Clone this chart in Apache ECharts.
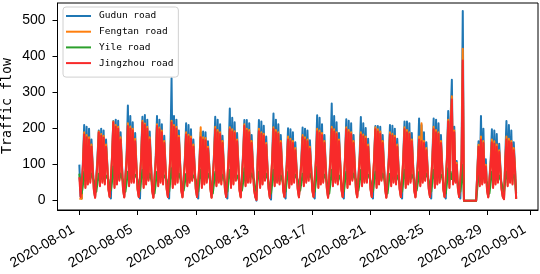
<!DOCTYPE html>
<html>
<head>
<meta charset="utf-8">
<script src="https://cdn.jsdelivr.net/npm/echarts@6/dist/echarts.min.js"></script>
<style>
  html, body { margin: 0; padding: 0; background: #fff; }
  #chart { width: 540px; height: 274px; }
</style>
</head>
<body>
<div id="chart"></div>
<script>
// one sample every 2 hours from 2020-08-01 00:00, one row per day (0,2,4,...,22h)
const stepHours = 2

const gudun = [
  100, 12, 6, 115, 210, 45, 205, 55, 200, 60, 170, 100,
  33, 10, 5, 125, 195, 50, 200, 60, 195, 55, 170, 105,
  35, 12, 6, 135, 221, 45, 225, 55, 222, 65, 190, 110,
  37, 11, 7, 130, 264, 50, 235, 60, 218, 60, 188, 105,
  35, 12, 6, 135, 233, 45, 238, 55, 225, 65, 192, 110,
  33, 10, 5, 125, 235, 50, 225, 60, 212, 55, 180, 100,
  35, 12, 6, 135, 340, 45, 235, 55, 225, 60, 195, 110,
  33, 11, 7, 120, 215, 50, 210, 60, 198, 65, 170, 100,
  35, 12, 6, 115, 190, 45, 192, 55, 190, 60, 165, 105,
  37, 10, 5, 130, 233, 50, 225, 60, 212, 55, 180, 105,
  35, 12, 6, 130, 256, 45, 230, 55, 218, 65, 188, 110,
  33, 11, 7, 135, 224, 50, 224, 60, 215, 60, 182, 105,
  35, 12, 0, 125, 224, 45, 220, 55, 208, 65, 178, 100,
  37, 10, 3, 130, 242, 50, 225, 60, 212, 55, 182, 105,
  33, 12, 6, 115, 201, 45, 198, 55, 190, 60, 162, 95,
  35, 11, 7, 120, 203, 50, 200, 60, 195, 65, 168, 100,
  33, 12, 6, 125, 237, 45, 230, 55, 212, 60, 182, 105,
  37, 10, 5, 130, 270, 50, 235, 60, 218, 55, 188, 110,
  35, 12, 6, 130, 226, 45, 222, 55, 215, 65, 182, 105,
  33, 11, 7, 125, 232, 50, 215, 60, 202, 60, 172, 100,
  35, 12, 6, 130, 207, 45, 207, 55, 205, 65, 182, 105,
  37, 10, 5, 120, 210, 50, 208, 60, 200, 55, 172, 100,
  35, 12, 6, 130, 220, 45, 220, 55, 215, 60, 188, 105,
  33, 11, 7, 115, 228, 50, 210, 60, 190, 65, 162, 95,
  35, 12, 6, 130, 228, 45, 225, 55, 215, 60, 182, 105,
  35, 12, 6, 130, 249, 45, 230, 336, 55, 205, 60, 110,
  37, 12, 6, 125, 527, 0, 0, 0, 0, 0, 0, 0,
  0, 0, 0, 0, 0, 165, 50, 235, 55, 200, 60, 115,
  33, 11, 6, 115, 198, 45, 195, 55, 185, 60, 158, 95,
  35, 12, 5, 120, 221, 50, 210, 60, 195, 55, 162, 100,
  5
]

const fengtan = [
  5, 8, 5, 105, 190, 38, 182, 48, 176, 53, 156, 95,
  30, 9, 5, 115, 192, 43, 185, 53, 180, 48, 156, 100,
  33, 11, 6, 125, 220, 38, 210, 48, 205, 58, 176, 105,
  34, 10, 7, 120, 215, 43, 206, 53, 200, 53, 172, 100,
  33, 11, 6, 125, 222, 38, 214, 48, 205, 58, 176, 105,
  30, 9, 5, 115, 212, 43, 203, 53, 195, 48, 166, 95,
  33, 11, 6, 125, 222, 38, 210, 48, 205, 53, 180, 105,
  30, 10, 7, 110, 190, 43, 183, 53, 178, 58, 156, 95,
  33, 11, 6, 105, 204, 38, 176, 48, 174, 53, 150, 100,
  34, 9, 5, 120, 205, 43, 196, 53, 190, 48, 166, 100,
  33, 11, 6, 120, 204, 38, 198, 48, 193, 58, 170, 105,
  30, 10, 7, 125, 212, 43, 200, 53, 196, 53, 166, 100,
  33, 11, 3, 115, 200, 38, 190, 48, 186, 58, 160, 95,
  34, 9, 5, 120, 204, 43, 196, 53, 190, 48, 166, 100,
  30, 11, 6, 105, 178, 38, 172, 48, 166, 53, 146, 90,
  33, 10, 7, 110, 182, 43, 176, 53, 170, 58, 150, 95,
  30, 11, 6, 115, 200, 38, 195, 48, 188, 53, 166, 100,
  34, 9, 5, 120, 205, 43, 198, 53, 190, 48, 170, 105,
  33, 11, 6, 120, 204, 38, 196, 48, 190, 58, 166, 100,
  30, 10, 7, 115, 190, 43, 184, 53, 178, 53, 156, 95,
  33, 11, 6, 120, 204, 38, 198, 48, 192, 58, 166, 100,
  34, 9, 5, 110, 190, 43, 186, 53, 180, 48, 156, 95,
  33, 11, 6, 120, 204, 38, 196, 48, 190, 53, 170, 100,
  30, 10, 7, 105, 178, 43, 215, 53, 166, 58, 146, 90,
  33, 11, 6, 120, 205, 38, 196, 48, 190, 53, 166, 100,
  33, 11, 6, 120, 225, 38, 215, 290, 48, 195, 53, 105,
  34, 11, 6, 115, 422, 0, 0, 0, 0, 0, 0, 0,
  0, 0, 0, 0, 0, 155, 43, 178, 48, 166, 53, 100,
  30, 10, 6, 105, 170, 38, 165, 48, 156, 53, 140, 90,
  33, 11, 5, 110, 178, 43, 172, 53, 166, 48, 146, 95,
  5
]

const yile = [
  75, 30, 20, 45, 80, 55, 85, 60, 80, 60, 75, 65,
  55, 35, 25, 50, 75, 55, 80, 60, 78, 55, 70, 65,
  58, 38, 28, 55, 95, 60, 85, 65, 82, 60, 75, 70,
  55, 33, 25, 50, 80, 55, 90, 60, 80, 65, 72, 65,
  58, 38, 28, 60, 85, 60, 80, 60, 85, 60, 75, 70,
  50, 30, 20, 50, 80, 55, 85, 65, 78, 60, 70, 65,
  58, 35, 25, 55, 90, 60, 85, 70, 82, 65, 75, 70,
  55, 38, 28, 50, 75, 55, 80, 60, 78, 60, 70, 65,
  58, 35, 25, 55, 85, 60, 85, 65, 80, 60, 75, 70,
  55, 30, 20, 50, 80, 55, 90, 60, 82, 55, 72, 65,
  50, 35, 25, 55, 85, 60, 80, 65, 78, 60, 70, 60,
  55, 38, 28, 50, 90, 55, 85, 60, 82, 65, 75, 65,
  58, 35, 25, 55, 80, 60, 85, 65, 80, 60, 75, 70,
  50, 30, 20, 50, 85, 55, 80, 60, 78, 55, 70, 60,
  55, 35, 25, 55, 80, 60, 90, 65, 82, 60, 72, 65,
  58, 38, 28, 50, 75, 55, 85, 60, 80, 65, 75, 70,
  55, 35, 25, 55, 95, 60, 80, 65, 85, 60, 72, 65,
  50, 30, 20, 50, 85, 55, 90, 60, 80, 55, 70, 60,
  55, 35, 25, 55, 80, 60, 85, 65, 78, 60, 75, 65,
  58, 38, 28, 50, 85, 55, 80, 60, 82, 65, 72, 70,
  55, 35, 25, 55, 80, 60, 85, 65, 80, 60, 75, 65,
  50, 30, 20, 50, 75, 55, 80, 60, 78, 55, 70, 60,
  55, 35, 25, 55, 85, 60, 85, 65, 80, 60, 72, 65,
  58, 38, 28, 50, 80, 55, 80, 60, 78, 65, 75, 70,
  55, 35, 25, 55, 85, 60, 85, 65, 82, 60, 72, 65,
  50, 30, 20, 50, 90, 55, 80, 60, 78, 55, 70, 60,
  55, 35, 25, 55, 100, 0, 0, 0, 0, 0, 0, 0,
  0, 0, 0, 0, 0, 70, 55, 80, 60, 78, 60, 65,
  50, 30, 20, 50, 80, 55, 85, 60, 78, 55, 70, 60,
  55, 35, 25, 55, 80, 60, 80, 65, 78, 60, 72, 65,
  20
]

const jingzhou = [
  65, 10, 5, 100, 184, 35, 176, 45, 170, 50, 150, 90,
  28, 8, 4, 110, 189, 40, 180, 50, 175, 45, 150, 95,
  30, 10, 5, 120, 218, 35, 205, 45, 200, 55, 170, 100,
  32, 9, 6, 115, 207, 40, 200, 50, 195, 50, 165, 95,
  30, 10, 5, 120, 217, 35, 210, 45, 200, 55, 170, 100,
  28, 8, 4, 110, 207, 40, 198, 50, 190, 45, 160, 90,
  30, 10, 5, 120, 217, 35, 205, 45, 200, 50, 175, 100,
  28, 9, 6, 105, 184, 40, 178, 50, 172, 55, 150, 90,
  30, 10, 5, 100, 176, 35, 170, 45, 168, 50, 145, 95,
  32, 8, 4, 115, 198, 40, 190, 50, 185, 45, 160, 95,
  30, 10, 5, 115, 198, 35, 192, 45, 188, 55, 165, 100,
  28, 9, 6, 120, 207, 40, 195, 50, 190, 50, 160, 95,
  30, 10, 2, 110, 193, 35, 185, 45, 180, 55, 155, 90,
  32, 8, 4, 115, 198, 40, 190, 50, 185, 45, 160, 95,
  28, 10, 5, 100, 170, 35, 165, 45, 160, 50, 140, 85,
  30, 9, 6, 105, 176, 40, 170, 50, 165, 55, 145, 90,
  28, 10, 5, 110, 193, 35, 188, 45, 182, 50, 160, 95,
  32, 8, 4, 115, 198, 40, 192, 50, 185, 45, 165, 100,
  30, 10, 5, 115, 198, 35, 190, 45, 185, 55, 160, 95,
  28, 9, 6, 110, 184, 40, 178, 50, 172, 50, 150, 90,
  30, 10, 5, 115, 198, 35, 192, 45, 186, 55, 160, 95,
  32, 8, 4, 105, 184, 40, 180, 50, 175, 45, 150, 90,
  30, 10, 5, 115, 198, 35, 190, 45, 185, 50, 165, 95,
  28, 9, 6, 100, 170, 40, 165, 50, 160, 55, 140, 85,
  30, 10, 5, 115, 198, 35, 190, 45, 185, 50, 160, 95,
  30, 10, 5, 115, 220, 35, 210, 281, 45, 190, 50, 100,
  32, 10, 5, 110, 389, 0, 0, 0, 0, 0, 0, 0,
  0, 0, 0, 0, 0, 150, 40, 170, 45, 160, 50, 95,
  28, 9, 5, 100, 162, 35, 158, 45, 150, 50, 135, 85,
  30, 10, 4, 105, 170, 40, 165, 50, 160, 45, 140, 90,
  5
]

// x ticks in days after 2020-08-01
const tickDays = [0, 4, 8, 12, 16, 20, 24, 28, 31]
const tickLabels = [
  '2020-08-01', '2020-08-05', '2020-08-09', '2020-08-13', '2020-08-17',
  '2020-08-21', '2020-08-25', '2020-08-29', '2020-09-01'
]
const yTicks = [0, 100, 200, 300, 400, 500]

const roads = [
  { name: 'Gudun road', color: '#1f77b4', values: gudun },
  { name: 'Fengtan road', color: '#ff7f0e', values: fengtan },
  { name: 'Yile road', color: '#2ca02c', values: yile },
  { name: 'Jingzhou road', color: '#f82a2a', values: jingzhou }
]

function toPoints(values) {
  return values.map((v, i) => [i * stepHours / 24, v])
}

const chart = echarts.init(document.getElementById('chart'), null, { renderer: 'canvas' })
chart.setOption({
  animation: false,
  grid: {
    left: 57.5,
    right: 2,
    top: 3,
    bottom: 64,
    containLabel: false,
    outerBoundsMode: 'none',
    show: true,
    borderColor: '#000',
    borderWidth: 1
  },
  // y axis title, placed by hand so the tick labels don't push it off the page
  graphic: [{
    type: 'text',
    x: 8,
    y: 106,
    rotation: Math.PI / 2,
    style: {
      text: 'Traffic flow',
      font: '13.3px "DejaVu Sans Mono"',
      fill: '#000',
      align: 'center',
      verticalAlign: 'middle'
    }
  }],
  legend: {
    orient: 'vertical',
    left: 63,
    top: 7,
    icon: 'rect',
    itemWidth: 25,
    itemHeight: 2,
    itemGap: 3.7,
    padding: [3, 5, 8, 3],
    backgroundColor: 'rgba(255,255,255,0.8)',
    borderColor: '#d0d0d0',
    borderWidth: 1,
    borderRadius: 3,
    textStyle: {
      fontFamily: 'DejaVu Sans Mono',
      fontSize: 9.5,
      lineHeight: 12,
      color: '#000',
      padding: [0, 0, 0, 3]
    },
    data: roads.map(r => r.name)
  },
  xAxis: {
    type: 'value',
    min: -1.5,
    max: 31.5,
    splitLine: { show: false },
    axisLine: { onZero: false, lineStyle: { color: '#000', width: 1 } },
    axisTick: {
      customValues: tickDays,
      length: 5,
      lineStyle: { color: '#000' }
    },
    axisLabel: {
      customValues: tickDays,
      rotate: 30,
      align: 'right',
      verticalAlign: 'top',
      margin: 7,
      padding: [0, 11, 0, 0],
      fontFamily: 'Liberation Sans',
      fontSize: 14,
      color: '#000',
      formatter: v => tickLabels[tickDays.indexOf(v)]
    }
  },
  yAxis: {
    type: 'value',
    min: -26,
    max: 549,
    splitLine: { show: false },
    axisLine: { show: true, onZero: false, lineStyle: { color: '#000', width: 1 } },
    axisTick: {
      customValues: yTicks,
      length: 5,
      lineStyle: { color: '#000' }
    },
    axisLabel: {
      customValues: yTicks,
      margin: 12,
      fontFamily: 'Liberation Sans',
      fontSize: 14,
      color: '#000'
    }
  },
  series: roads.map(r => ({
    name: r.name,
    type: 'line',
    data: toPoints(r.values),
    showSymbol: false,
    symbol: 'none',
    color: r.color,
    lineStyle: { width: 2, color: r.color, join: 'round' }
  }))
})
</script>
</body>
</html>
